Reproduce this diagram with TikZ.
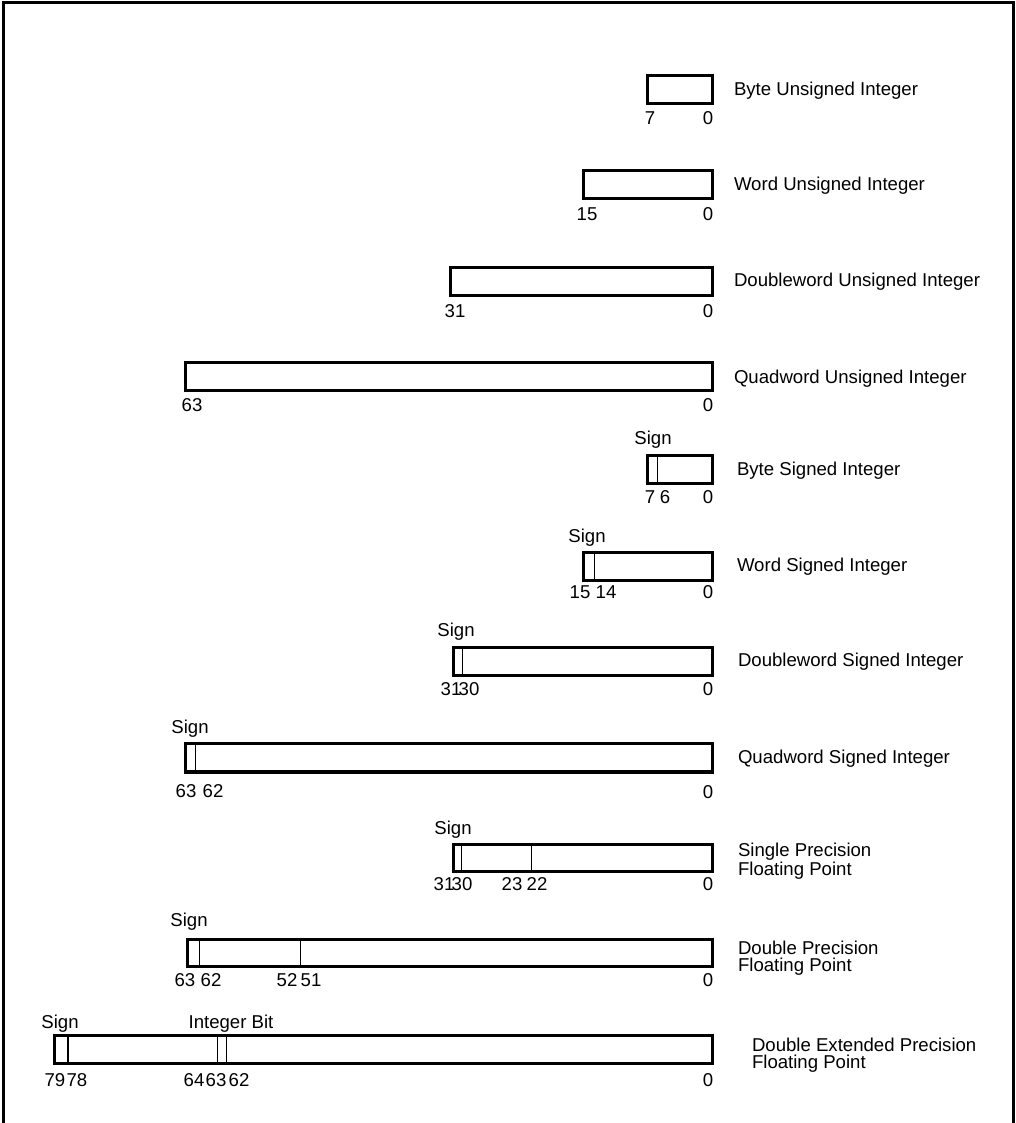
\documentclass[tikz,border=0pt]{standalone}
\usepackage{fontspec}
\setmainfont{Liberation Sans}
\begin{document}
\begin{tikzpicture}[x=1pt,y=-1pt,
  every node/.style={inner sep=0pt,outer sep=0pt,font=\fontsize{18.6}{19}\selectfont},
  fieldbox/.style={draw=black,line width=3.3pt},
  divider/.style={draw=black,line width=1.3pt},
  frameline/.style={draw=black,line width=3pt},
  numlbl/.style={anchor=center},
  typelbl/.style={anchor=west,align=left,yshift=-2pt},
  signlbl/.style={anchor=center,yshift=-2pt}]
\useasboundingbox (0,0) rectangle (1015,1123);
% frame (open at the bottom)
\draw[frameline] (3.8,1123) -- (3.8,2.8) -- (1013.5,2.8) -- (1013.5,1123);

% Row 1: Byte Unsigned
\draw[fieldbox] (647.5,75.5) rectangle (712.5,103.5);
\node[numlbl] (r1a) at (650,118) {7};
\node[numlbl] (r1b) at (708,118) {0};
\node[typelbl] (r1n) at (734,89) {Byte Unsigned Integer};

% Row 2: Word Unsigned
\draw[fieldbox] (583.5,170.5) rectangle (712.5,198.5);
\node[numlbl] (r2a) at (587,214) {15};
\node[numlbl] (r2b) at (708,214) {0};
\node[typelbl] (r2n) at (734,184) {Word Unsigned Integer};

% Row 3: Doubleword Unsigned
\draw[fieldbox] (450.5,267.5) rectangle (712.5,295.5);
\node[numlbl] (r3a) at (455,311) {31};
\node[numlbl] (r3b) at (708,311) {0};
\node[typelbl] (r3n) at (734,280) {Doubleword Unsigned Integer};

% Row 4: Quadword Unsigned
\draw[fieldbox] (185.5,362.5) rectangle (712.5,390.5);
\node[numlbl] (r4a) at (192,405) {63};
\node[numlbl] (r4b) at (708,405) {0};
\node[typelbl] (r4n) at (734,377) {Quadword Unsigned Integer};

% Row 5: Byte Signed
\draw[fieldbox] (647.5,455.5) rectangle (712.5,483.5);
\draw[divider] (657.5,455.5) -- (657.5,483.5);
\node[signlbl] (r5s) at (653,438) {Sign};
\node[numlbl] (r5a) at (650,497) {7};
\node[numlbl] (r5b) at (665,497) {6};
\node[numlbl] (r5c) at (708,497) {0};
\node[typelbl] (r5n) at (737,469) {Byte Signed Integer};

% Row 6: Word Signed
\draw[fieldbox] (583.5,552.5) rectangle (712.5,580.5);
\draw[divider] (594.5,552.5) -- (594.5,580.5);
\node[signlbl] (r6s) at (587,536) {Sign};
\node[numlbl] (r6a) at (580,592) {15};
\node[numlbl] (r6b) at (606,592) {14};
\node[numlbl] (r6c) at (708,592) {0};
\node[typelbl] (r6n) at (737,565) {Word Signed Integer};

% Row 7: Doubleword Signed
\draw[fieldbox] (453.5,647.5) rectangle (712.5,675.5);
\draw[divider] (462.5,647.5) -- (462.5,675.5);
\node[signlbl] (r7s) at (456,630) {Sign};
\node[numlbl] (r7a) at (451,689) {31};
\node[numlbl] (r7b) at (469,689) {30};
\node[numlbl] (r7c) at (708,689) {0};
\node[typelbl] (r7n) at (738,660) {Doubleword Signed Integer};

% Row 8: Quadword Signed
\draw[fieldbox] (185.5,743.5) rectangle (712.5,772);
\draw[divider] (195.5,743.5) -- (195.5,772);
\node[signlbl] (r8s) at (190,727) {Sign};
\node[numlbl] (r8a) at (186,791) {63};
\node[numlbl] (r8b) at (213,791) {62};
\node[numlbl] (r8c) at (708,792) {0};
\node[typelbl] (r8n) at (738,757) {Quadword Signed Integer};

% Row 9: Single Precision
\draw[fieldbox] (453.5,844.5) rectangle (712.5,871.5);
\draw[divider] (461.5,844.5) -- (461.5,871.5);
\draw[divider] (531.5,844.5) -- (531.5,871.5);
\node[signlbl] (r9s) at (453,828) {Sign};
\node[numlbl] (r9a) at (444,884) {31};
\node[numlbl] (r9b) at (462,884) {30};
\node[numlbl] (r9c) at (512,884) {23};
\node[numlbl] (r9d) at (537,884) {22};
\node[numlbl] (r9e) at (708,884) {0};
\node[typelbl] (r9n1) at (738,850) {Single Precision};
\node[typelbl] (r9n2) at (738,869) {Floating Point};

% Row 10: Double Precision
\draw[fieldbox] (187.5,939.5) rectangle (712.5,966.5);
\draw[divider] (199.5,939.5) -- (199.5,966.5);
\draw[divider] (300.5,939.5) -- (300.5,966.5);
\node[signlbl] (r10s) at (189,920) {Sign};
\node[numlbl] (r10a) at (185,980) {63};
\node[numlbl] (r10b) at (211,980) {62};
\node[numlbl] (r10c) at (287,980) {52};
\node[numlbl] (r10d) at (311,980) {51};
\node[numlbl] (r10e) at (708,980) {0};
\node[typelbl] (r10n1) at (738,946) {Double Precision};
\node[typelbl] (r10n2) at (738,965) {Floating Point};

% Row 11: Double Extended Precision
\draw[fieldbox] (54.5,1035.5) rectangle (712.5,1063.5);
\draw[divider] (68,1035.5) -- (68,1063.5);
\draw[divider] (217.5,1035.5) -- (217.5,1063.5);
\draw[divider] (226.5,1035.5) -- (226.5,1063.5);
\node[signlbl] (r11s) at (60,1022) {Sign};
\node[signlbl] (r11i) at (231,1022) {Integer Bit};
\node[numlbl] (r11a) at (55,1080) {79};
\node[numlbl] (r11b) at (77,1080) {78};
\node[numlbl] (r11c) at (194,1080) {64};
\node[numlbl] (r11d) at (216,1080) {63};
\node[numlbl] (r11e) at (239,1080) {62};
\node[numlbl] (r11f) at (708,1080) {0};
\node[typelbl] (r11n1) at (752,1043) {Double Extended Precision};
\node[typelbl] (r11n2) at (752,1062) {Floating Point};
\end{tikzpicture}
\end{document}
